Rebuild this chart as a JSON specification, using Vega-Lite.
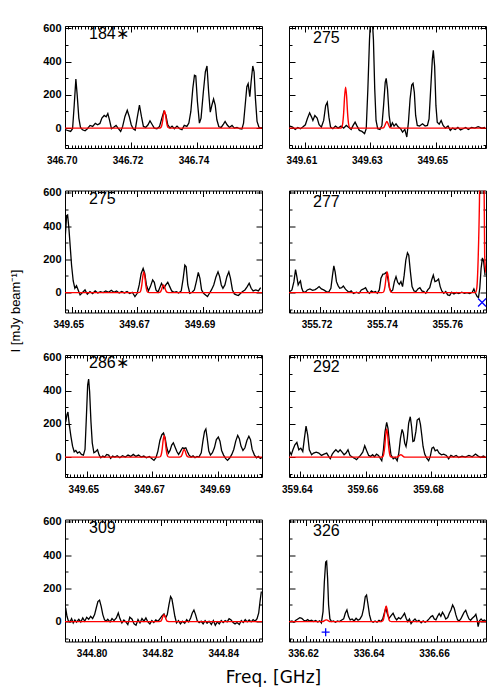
{
"$schema":"https://vega.github.io/schema/vega-lite/v6.json",
"background":"white",
"padding":{"left":8,"top":21,"right":5,"bottom":5},
"bounds":"flush",
"columns":2,
"spacing":{"row":42.5,"column":27},
"config":{
 "view":{"stroke":"black","strokeWidth":1},
 "axis":{"domain":false,"grid":false,"tickColor":"black","tickWidth":1,"labelFont":"Liberation Sans","labelFontWeight":"bold","labelFontSize":10,"labelColor":"black","labelFlush":false,"labelOverlap":false,"titleFont":"DejaVu Sans","titleFontWeight":"normal","titleFontSize":17,"titleColor":"black"},
 "axisLeft":{"labelFontSize":11},
 "title":{"anchor":"start","frame":"group","offset":-20,"dx":24,"fontSize":16,"fontWeight":"normal","font":"Liberation Sans","color":"black"}
},
"datasets":{
"o1":[{"f":346.7002,"v":-10},{"f":346.701,"v":-16},{"f":346.7017,"v":-20},{"f":346.7023,"v":-4},{"f":346.7028,"v":139},{"f":346.7033,"v":295},{"f":346.7037,"v":199},{"f":346.7042,"v":60},{"f":346.7047,"v":4},{"f":346.7053,"v":-10},{"f":346.7061,"v":-16},{"f":346.7068,"v":-4},{"f":346.7076,"v":16},{"f":346.7084,"v":10},{"f":346.7092,"v":28},{"f":346.7099,"v":20},{"f":346.7106,"v":28},{"f":346.7112,"v":60},{"f":346.7119,"v":76},{"f":346.7125,"v":68},{"f":346.713,"v":88},{"f":346.7135,"v":50},{"f":346.7141,"v":-4},{"f":346.7147,"v":4},{"f":346.7155,"v":16},{"f":346.7161,"v":0},{"f":346.7169,"v":-20},{"f":346.7175,"v":10},{"f":346.7182,"v":70},{"f":346.7189,"v":107},{"f":346.7195,"v":70},{"f":346.7201,"v":20},{"f":346.7207,"v":-4},{"f":346.7213,"v":-12},{"f":346.7219,"v":60},{"f":346.7226,"v":139},{"f":346.7232,"v":70},{"f":346.7238,"v":10},{"f":346.7245,"v":4},{"f":346.7252,"v":20},{"f":346.7258,"v":44},{"f":346.7265,"v":20},{"f":346.7271,"v":0},{"f":346.7279,"v":-4},{"f":346.7287,"v":10},{"f":346.7294,"v":60},{"f":346.73,"v":100},{"f":346.7306,"v":80},{"f":346.7312,"v":20},{"f":346.7319,"v":0},{"f":346.7325,"v":12},{"f":346.7332,"v":-4},{"f":346.734,"v":12},{"f":346.7348,"v":-4},{"f":346.7355,"v":-10},{"f":346.7362,"v":16},{"f":346.737,"v":10},{"f":346.7376,"v":30},{"f":346.7382,"v":100},{"f":346.7388,"v":239},{"f":346.7393,"v":318},{"f":346.7397,"v":314},{"f":346.7402,"v":159},{"f":346.7408,"v":30},{"f":346.7413,"v":60},{"f":346.742,"v":219},{"f":346.7426,"v":338},{"f":346.7431,"v":374},{"f":346.7436,"v":219},{"f":346.7441,"v":96},{"f":346.7446,"v":139},{"f":346.7451,"v":175},{"f":346.7456,"v":139},{"f":346.7461,"v":50},{"f":346.7467,"v":8},{"f":346.7474,"v":4},{"f":346.7481,"v":24},{"f":346.7486,"v":40},{"f":346.7492,"v":20},{"f":346.7499,"v":4},{"f":346.7507,"v":16},{"f":346.7514,"v":0},{"f":346.7522,"v":4},{"f":346.753,"v":-4},{"f":346.7537,"v":-6},{"f":346.7542,"v":30},{"f":346.7547,"v":139},{"f":346.7552,"v":249},{"f":346.7556,"v":267},{"f":346.7561,"v":189},{"f":346.7565,"v":279},{"f":346.757,"v":374},{"f":346.7574,"v":338},{"f":346.7578,"v":179},{"f":346.7583,"v":40},{"f":346.7589,"v":4},{"f":346.7595,"v":0},{"f":346.7598,"v":4}],
"m1":[{"f":346.7,"v":0},{"f":346.7286,"v":0},{"f":346.729,"v":2},{"f":346.7293,"v":11},{"f":346.7296,"v":39},{"f":346.7299,"v":82},{"f":346.7302,"v":105},{"f":346.7305,"v":82},{"f":346.7308,"v":39},{"f":346.7311,"v":11},{"f":346.7314,"v":2},{"f":346.7318,"v":0},{"f":346.7598,"v":0}],
"o2":[{"f":349.6055,"v":12},{"f":349.6063,"v":6},{"f":349.6071,"v":-8},{"f":349.6079,"v":4},{"f":349.6087,"v":-4},{"f":349.6095,"v":8},{"f":349.6102,"v":20},{"f":349.6108,"v":56},{"f":349.6115,"v":92},{"f":349.6121,"v":66},{"f":349.6125,"v":46},{"f":349.6131,"v":76},{"f":349.6138,"v":60},{"f":349.6144,"v":20},{"f":349.6151,"v":6},{"f":349.6158,"v":46},{"f":349.6164,"v":135},{"f":349.6169,"v":155},{"f":349.6174,"v":66},{"f":349.6179,"v":6},{"f":349.6186,"v":-4},{"f":349.6194,"v":12},{"f":349.6202,"v":0},{"f":349.6211,"v":12},{"f":349.6219,"v":0},{"f":349.6227,"v":16},{"f":349.6235,"v":4},{"f":349.6242,"v":-8},{"f":349.6248,"v":16},{"f":349.6254,"v":36},{"f":349.626,"v":12},{"f":349.6267,"v":-14},{"f":349.6275,"v":-20},{"f":349.6283,"v":-34},{"f":349.6288,"v":-4},{"f":349.6293,"v":235},{"f":349.6298,"v":533},{"f":349.6301,"v":650},{"f":349.6306,"v":670},{"f":349.631,"v":533},{"f":349.6314,"v":235},{"f":349.6318,"v":46},{"f":349.6323,"v":-4},{"f":349.633,"v":-8},{"f":349.6336,"v":16},{"f":349.6341,"v":135},{"f":349.6346,"v":275},{"f":349.6349,"v":299},{"f":349.6353,"v":235},{"f":349.6358,"v":76},{"f":349.6363,"v":6},{"f":349.6368,"v":32},{"f":349.6373,"v":12},{"f":349.6379,"v":26},{"f":349.6386,"v":6},{"f":349.6393,"v":-4},{"f":349.6399,"v":-24},{"f":349.6406,"v":-8},{"f":349.6412,"v":-54},{"f":349.6417,"v":36},{"f":349.6422,"v":175},{"f":349.6427,"v":259},{"f":349.6431,"v":269},{"f":349.6435,"v":215},{"f":349.6439,"v":76},{"f":349.6444,"v":16},{"f":349.6451,"v":12},{"f":349.646,"v":26},{"f":349.6468,"v":12},{"f":349.6475,"v":16},{"f":349.648,"v":56},{"f":349.6485,"v":235},{"f":349.649,"v":414},{"f":349.6493,"v":468},{"f":349.6497,"v":374},{"f":349.6501,"v":135},{"f":349.6505,"v":36},{"f":349.6511,"v":24},{"f":349.6517,"v":46},{"f":349.6523,"v":16},{"f":349.653,"v":0},{"f":349.6538,"v":12},{"f":349.6545,"v":-14},{"f":349.6552,"v":0},{"f":349.656,"v":-8},{"f":349.6568,"v":4},{"f":349.6576,"v":-12},{"f":349.6584,"v":-4},{"f":349.6592,"v":4},{"f":349.66,"v":-8},{"f":349.661,"v":4},{"f":349.662,"v":0},{"f":349.663,"v":8},{"f":349.6641,"v":0},{"f":349.6651,"v":4}],
"m2":[{"f":349.6052,"v":0},{"f":349.6209,"v":0},{"f":349.6213,"v":4},{"f":349.6216,"v":26},{"f":349.6219,"v":91},{"f":349.6222,"v":193},{"f":349.6225,"v":247},{"f":349.6228,"v":193},{"f":349.6231,"v":91},{"f":349.6234,"v":26},{"f":349.6237,"v":4},{"f":349.6241,"v":0},{"f":349.6335,"v":0},{"f":349.6339,"v":1},{"f":349.6342,"v":4},{"f":349.6345,"v":15},{"f":349.6348,"v":31},{"f":349.6351,"v":40},{"f":349.6354,"v":31},{"f":349.6357,"v":15},{"f":349.636,"v":4},{"f":349.6363,"v":1},{"f":349.6367,"v":0},{"f":349.6654,"v":0}],
"o3":[{"f":349.6481,"v":344},{"f":349.6485,"v":464},{"f":349.6488,"v":468},{"f":349.6492,"v":384},{"f":349.6496,"v":275},{"f":349.65,"v":165},{"f":349.6505,"v":70},{"f":349.651,"v":26},{"f":349.6515,"v":42},{"f":349.652,"v":16},{"f":349.6526,"v":-14},{"f":349.6534,"v":2},{"f":349.6541,"v":16},{"f":349.6548,"v":-10},{"f":349.6556,"v":6},{"f":349.6564,"v":-6},{"f":349.6572,"v":10},{"f":349.658,"v":-2},{"f":349.6588,"v":6},{"f":349.6596,"v":0},{"f":349.6604,"v":10},{"f":349.6613,"v":2},{"f":349.6621,"v":14},{"f":349.6629,"v":2},{"f":349.6637,"v":10},{"f":349.6645,"v":-2},{"f":349.6653,"v":6},{"f":349.6661,"v":-2},{"f":349.6669,"v":6},{"f":349.6677,"v":-6},{"f":349.6685,"v":2},{"f":349.6693,"v":-24},{"f":349.67,"v":-4},{"f":349.6706,"v":46},{"f":349.6712,"v":115},{"f":349.6718,"v":145},{"f":349.6723,"v":115},{"f":349.6728,"v":46},{"f":349.6734,"v":10},{"f":349.674,"v":36},{"f":349.6747,"v":76},{"f":349.6752,"v":62},{"f":349.6757,"v":16},{"f":349.6763,"v":2},{"f":349.6768,"v":26},{"f":349.6774,"v":56},{"f":349.6781,"v":26},{"f":349.6787,"v":46},{"f":349.6793,"v":62},{"f":349.6799,"v":36},{"f":349.6805,"v":10},{"f":349.6812,"v":2},{"f":349.6819,"v":6},{"f":349.6826,"v":-2},{"f":349.6834,"v":10},{"f":349.684,"v":86},{"f":349.6845,"v":165},{"f":349.6849,"v":155},{"f":349.6854,"v":46},{"f":349.686,"v":-4},{"f":349.6867,"v":2},{"f":349.6874,"v":16},{"f":349.688,"v":66},{"f":349.6886,"v":121},{"f":349.6891,"v":86},{"f":349.6896,"v":16},{"f":349.6902,"v":-4},{"f":349.6908,"v":-14},{"f":349.6914,"v":-24},{"f":349.692,"v":-4},{"f":349.6926,"v":16},{"f":349.6933,"v":46},{"f":349.694,"v":96},{"f":349.6946,"v":125},{"f":349.6951,"v":96},{"f":349.6956,"v":46},{"f":349.6961,"v":26},{"f":349.6967,"v":46},{"f":349.6973,"v":96},{"f":349.6979,"v":125},{"f":349.6984,"v":86},{"f":349.699,"v":16},{"f":349.6996,"v":-8},{"f":349.7002,"v":-14},{"f":349.7008,"v":-18},{"f":349.7015,"v":-4},{"f":349.7021,"v":6},{"f":349.7028,"v":16},{"f":349.7035,"v":36},{"f":349.7041,"v":56},{"f":349.7047,"v":26},{"f":349.7053,"v":10},{"f":349.7061,"v":16},{"f":349.7069,"v":10},{"f":349.7076,"v":30}],
"m3":[{"f":349.648,"v":0},{"f":349.6704,"v":0},{"f":349.6708,"v":2},{"f":349.6711,"v":13},{"f":349.6714,"v":46},{"f":349.6717,"v":98},{"f":349.672,"v":125},{"f":349.6723,"v":98},{"f":349.6726,"v":46},{"f":349.6729,"v":13},{"f":349.6732,"v":2},{"f":349.6736,"v":0},{"f":349.6764,"v":0},{"f":349.6768,"v":1},{"f":349.6771,"v":5},{"f":349.6774,"v":17},{"f":349.6777,"v":36},{"f":349.678,"v":46},{"f":349.6783,"v":36},{"f":349.6786,"v":17},{"f":349.6789,"v":5},{"f":349.6792,"v":1},{"f":349.6796,"v":0},{"f":349.708,"v":0}],
"o4":[{"f":355.7109,"v":6},{"f":355.7115,"v":16},{"f":355.7121,"v":66},{"f":355.7126,"v":139},{"f":355.713,"v":96},{"f":355.7134,"v":46},{"f":355.7138,"v":62},{"f":355.7141,"v":70},{"f":355.7145,"v":26},{"f":355.7149,"v":6},{"f":355.7156,"v":2},{"f":355.7162,"v":16},{"f":355.717,"v":22},{"f":355.7178,"v":14},{"f":355.7186,"v":18},{"f":355.7192,"v":26},{"f":355.7198,"v":36},{"f":355.7205,"v":22},{"f":355.7212,"v":16},{"f":355.722,"v":6},{"f":355.7227,"v":2},{"f":355.7234,"v":26},{"f":355.7239,"v":105},{"f":355.7243,"v":161},{"f":355.7247,"v":125},{"f":355.7251,"v":66},{"f":355.7256,"v":42},{"f":355.7261,"v":26},{"f":355.7267,"v":30},{"f":355.7272,"v":40},{"f":355.7278,"v":22},{"f":355.7283,"v":12},{"f":355.7289,"v":2},{"f":355.7296,"v":10},{"f":355.7303,"v":-6},{"f":355.7312,"v":2},{"f":355.732,"v":-4},{"f":355.7327,"v":16},{"f":355.7334,"v":22},{"f":355.734,"v":30},{"f":355.7346,"v":6},{"f":355.7352,"v":-4},{"f":355.7358,"v":10},{"f":355.7364,"v":2},{"f":355.737,"v":6},{"f":355.7376,"v":-4},{"f":355.7382,"v":16},{"f":355.7387,"v":86},{"f":355.7393,"v":111},{"f":355.7398,"v":113},{"f":355.7403,"v":121},{"f":355.7408,"v":86},{"f":355.7413,"v":26},{"f":355.7418,"v":6},{"f":355.7423,"v":16},{"f":355.7428,"v":66},{"f":355.7433,"v":96},{"f":355.7438,"v":62},{"f":355.7443,"v":50},{"f":355.7448,"v":66},{"f":355.7453,"v":36},{"f":355.7458,"v":105},{"f":355.7463,"v":195},{"f":355.7468,"v":239},{"f":355.7472,"v":225},{"f":355.7477,"v":125},{"f":355.7482,"v":36},{"f":355.7488,"v":10},{"f":355.7494,"v":6},{"f":355.75,"v":22},{"f":355.7506,"v":30},{"f":355.7512,"v":10},{"f":355.7518,"v":6},{"f":355.7524,"v":-4},{"f":355.753,"v":16},{"f":355.7536,"v":30},{"f":355.7542,"v":76},{"f":355.7547,"v":105},{"f":355.7552,"v":66},{"f":355.7557,"v":70},{"f":355.7563,"v":82},{"f":355.7568,"v":36},{"f":355.7573,"v":10},{"f":355.7579,"v":-4},{"f":355.7585,"v":6},{"f":355.7591,"v":-14},{"f":355.7597,"v":-18},{"f":355.7603,"v":2},{"f":355.761,"v":-8},{"f":355.7617,"v":0},{"f":355.7625,"v":-6},{"f":355.7634,"v":2},{"f":355.7642,"v":-4},{"f":355.765,"v":0},{"f":355.7658,"v":-6},{"f":355.7666,"v":2},{"f":355.7671,"v":22},{"f":355.7676,"v":-4},{"f":355.7681,"v":-24},{"f":355.7685,"v":-30},{"f":355.7689,"v":26},{"f":355.7693,"v":145},{"f":355.7697,"v":209},{"f":355.7701,"v":185},{"f":355.7705,"v":105}],
"m4":[{"f":355.7106,"v":0},{"f":355.739,"v":0},{"f":355.7394,"v":2},{"f":355.7397,"v":13},{"f":355.74,"v":46},{"f":355.7403,"v":98},{"f":355.7406,"v":125},{"f":355.7409,"v":98},{"f":355.7412,"v":46},{"f":355.7415,"v":13},{"f":355.7418,"v":2},{"f":355.7422,"v":0},{"f":355.7676,"v":0},{"f":355.768,"v":30},{"f":355.7684,"v":200},{"f":355.7688,"v":550},{"f":355.7692,"v":1200},{"f":355.7697,"v":1600},{"f":355.7701,"v":1000},{"f":355.7704,"v":215},{"f":355.7708,"v":120}],
"k4":[{"f":355.7696,"v":-60}],
"o5":[{"f":349.6436,"v":211},{"f":349.644,"v":255},{"f":349.6443,"v":271},{"f":349.6447,"v":195},{"f":349.6452,"v":125},{"f":349.6457,"v":66},{"f":349.6462,"v":32},{"f":349.6467,"v":40},{"f":349.6472,"v":24},{"f":349.6478,"v":32},{"f":349.6484,"v":16},{"f":349.649,"v":12},{"f":349.6495,"v":46},{"f":349.6499,"v":235},{"f":349.6503,"v":434},{"f":349.6506,"v":470},{"f":349.6509,"v":394},{"f":349.6513,"v":215},{"f":349.6517,"v":86},{"f":349.6522,"v":26},{"f":349.6527,"v":32},{"f":349.6533,"v":44},{"f":349.6538,"v":12},{"f":349.6543,"v":-4},{"f":349.6549,"v":6},{"f":349.6555,"v":0},{"f":349.6561,"v":16},{"f":349.6567,"v":12},{"f":349.6573,"v":-8},{"f":349.6579,"v":6},{"f":349.6586,"v":0},{"f":349.6593,"v":8},{"f":349.6601,"v":-4},{"f":349.6609,"v":8},{"f":349.6618,"v":0},{"f":349.6626,"v":12},{"f":349.6634,"v":4},{"f":349.6642,"v":16},{"f":349.665,"v":4},{"f":349.6658,"v":12},{"f":349.6666,"v":0},{"f":349.6674,"v":6},{"f":349.6682,"v":-4},{"f":349.6691,"v":4},{"f":349.6698,"v":-8},{"f":349.6705,"v":-20},{"f":349.6711,"v":-4},{"f":349.6717,"v":36},{"f":349.6723,"v":100},{"f":349.6729,"v":135},{"f":349.6734,"v":145},{"f":349.6739,"v":115},{"f":349.6744,"v":56},{"f":349.6749,"v":24},{"f":349.6754,"v":40},{"f":349.6759,"v":72},{"f":349.6764,"v":86},{"f":349.677,"v":56},{"f":349.6775,"v":32},{"f":349.678,"v":16},{"f":349.6786,"v":36},{"f":349.6792,"v":56},{"f":349.6797,"v":52},{"f":349.6802,"v":56},{"f":349.6807,"v":32},{"f":349.6812,"v":12},{"f":349.6818,"v":0},{"f":349.6824,"v":8},{"f":349.683,"v":-4},{"f":349.6836,"v":4},{"f":349.6842,"v":0},{"f":349.6849,"v":26},{"f":349.6854,"v":96},{"f":349.6859,"v":155},{"f":349.6863,"v":169},{"f":349.6867,"v":115},{"f":349.6872,"v":36},{"f":349.6877,"v":12},{"f":349.6883,"v":26},{"f":349.6889,"v":56},{"f":349.6895,"v":105},{"f":349.6901,"v":121},{"f":349.6906,"v":96},{"f":349.6911,"v":40},{"f":349.6917,"v":12},{"f":349.6923,"v":-8},{"f":349.6929,"v":-20},{"f":349.6936,"v":-4},{"f":349.6942,"v":16},{"f":349.6948,"v":46},{"f":349.6954,"v":96},{"f":349.696,"v":131},{"f":349.6965,"v":111},{"f":349.697,"v":66},{"f":349.6976,"v":40},{"f":349.6982,"v":56},{"f":349.6988,"v":100},{"f":349.6994,"v":125},{"f":349.6999,"v":105},{"f":349.7004,"v":46},{"f":349.7011,"v":12},{"f":349.7017,"v":-4},{"f":349.7023,"v":4},{"f":349.7029,"v":-8},{"f":349.7033,"v":-4}],
"m5":[{"f":349.6434,"v":0},{"f":349.672,"v":0},{"f":349.6724,"v":2},{"f":349.6727,"v":14},{"f":349.673,"v":48},{"f":349.6733,"v":102},{"f":349.6736,"v":131},{"f":349.6739,"v":102},{"f":349.6742,"v":48},{"f":349.6745,"v":14},{"f":349.6748,"v":2},{"f":349.6752,"v":0},{"f":349.6781,"v":0},{"f":349.6785,"v":1},{"f":349.6788,"v":5},{"f":349.6791,"v":17},{"f":349.6794,"v":36},{"f":349.6797,"v":46},{"f":349.68,"v":36},{"f":349.6803,"v":17},{"f":349.6806,"v":5},{"f":349.6809,"v":1},{"f":349.6813,"v":0},{"f":349.7034,"v":0}],
"o6":[{"f":359.6368,"v":34},{"f":359.6373,"v":14},{"f":359.6378,"v":44},{"f":359.6384,"v":74},{"f":359.639,"v":88},{"f":359.6396,"v":44},{"f":359.6402,"v":54},{"f":359.6408,"v":34},{"f":359.6413,"v":113},{"f":359.6418,"v":187},{"f":359.6423,"v":133},{"f":359.6428,"v":44},{"f":359.6435,"v":14},{"f":359.6441,"v":24},{"f":359.6449,"v":30},{"f":359.6457,"v":24},{"f":359.6465,"v":10},{"f":359.6473,"v":18},{"f":359.6481,"v":24},{"f":359.6487,"v":4},{"f":359.6492,"v":-10},{"f":359.6498,"v":18},{"f":359.6504,"v":34},{"f":359.6509,"v":44},{"f":359.6516,"v":30},{"f":359.6522,"v":44},{"f":359.6528,"v":30},{"f":359.6534,"v":14},{"f":359.654,"v":24},{"f":359.6546,"v":44},{"f":359.6552,"v":10},{"f":359.6558,"v":2},{"f":359.6565,"v":-6},{"f":359.6572,"v":-16},{"f":359.6578,"v":-2},{"f":359.6584,"v":10},{"f":359.6591,"v":30},{"f":359.6597,"v":68},{"f":359.6603,"v":38},{"f":359.6609,"v":10},{"f":359.6615,"v":4},{"f":359.6621,"v":14},{"f":359.6627,"v":2},{"f":359.6633,"v":18},{"f":359.6639,"v":10},{"f":359.6645,"v":-10},{"f":359.6649,"v":-22},{"f":359.6654,"v":44},{"f":359.6659,"v":153},{"f":359.6664,"v":209},{"f":359.6668,"v":173},{"f":359.6672,"v":94},{"f":359.6677,"v":14},{"f":359.6684,"v":-10},{"f":359.669,"v":-2},{"f":359.6696,"v":-22},{"f":359.6701,"v":24},{"f":359.6706,"v":113},{"f":359.6711,"v":167},{"f":359.6715,"v":143},{"f":359.6719,"v":84},{"f":359.6723,"v":64},{"f":359.6727,"v":113},{"f":359.6731,"v":203},{"f":359.6736,"v":243},{"f":359.674,"v":183},{"f":359.6744,"v":94},{"f":359.6748,"v":98},{"f":359.6753,"v":153},{"f":359.6757,"v":223},{"f":359.6763,"v":233},{"f":359.6767,"v":197},{"f":359.6771,"v":133},{"f":359.6775,"v":64},{"f":359.678,"v":18},{"f":359.6786,"v":-6},{"f":359.6792,"v":-22},{"f":359.6797,"v":4},{"f":359.6802,"v":54},{"f":359.6807,"v":60},{"f":359.6812,"v":38},{"f":359.6818,"v":44},{"f":359.6824,"v":24},{"f":359.6831,"v":14},{"f":359.6838,"v":18},{"f":359.6846,"v":10},{"f":359.6853,"v":-10},{"f":359.686,"v":10},{"f":359.6868,"v":2},{"f":359.6876,"v":10},{"f":359.6884,"v":-2},{"f":359.6894,"v":6},{"f":359.6904,"v":0},{"f":359.6915,"v":10},{"f":359.6925,"v":2},{"f":359.6935,"v":18},{"f":359.6943,"v":6},{"f":359.6951,"v":-2},{"f":359.6959,"v":6},{"f":359.6965,"v":0}],
"m6":[{"f":359.6366,"v":0},{"f":359.6648,"v":0},{"f":359.6652,"v":3},{"f":359.6655,"v":18},{"f":359.6658,"v":63},{"f":359.6661,"v":132},{"f":359.6664,"v":169},{"f":359.6667,"v":132},{"f":359.667,"v":63},{"f":359.6673,"v":18},{"f":359.6676,"v":3},{"f":359.668,"v":0},{"f":359.6695,"v":0},{"f":359.67,"v":5},{"f":359.6704,"v":12},{"f":359.6707,"v":14},{"f":359.671,"v":12},{"f":359.6714,"v":5},{"f":359.6719,"v":0},{"f":359.6967,"v":0}],
"o7":[{"f":344.7911,"v":82},{"f":344.7915,"v":32},{"f":344.7919,"v":6},{"f":344.7924,"v":-2},{"f":344.7929,"v":18},{"f":344.7934,"v":-8},{"f":344.7939,"v":10},{"f":344.7944,"v":-4},{"f":344.7951,"v":14},{"f":344.7957,"v":-2},{"f":344.7963,"v":22},{"f":344.7969,"v":2},{"f":344.7975,"v":26},{"f":344.7981,"v":14},{"f":344.7987,"v":32},{"f":344.7993,"v":18},{"f":344.7999,"v":42},{"f":344.8004,"v":82},{"f":344.8009,"v":121},{"f":344.8014,"v":129},{"f":344.8019,"v":92},{"f":344.8024,"v":42},{"f":344.8029,"v":12},{"f":344.8034,"v":2},{"f":344.8039,"v":14},{"f":344.8046,"v":-2},{"f":344.8052,"v":18},{"f":344.8058,"v":6},{"f":344.8065,"v":22},{"f":344.8071,"v":52},{"f":344.8076,"v":18},{"f":344.8082,"v":-8},{"f":344.8088,"v":10},{"f":344.8094,"v":-2},{"f":344.81,"v":-18},{"f":344.8106,"v":26},{"f":344.8113,"v":14},{"f":344.8119,"v":-14},{"f":344.8125,"v":-22},{"f":344.8131,"v":12},{"f":344.8137,"v":-8},{"f":344.8143,"v":18},{"f":344.8149,"v":2},{"f":344.8155,"v":22},{"f":344.8161,"v":-2},{"f":344.8167,"v":-14},{"f":344.8173,"v":6},{"f":344.8179,"v":-6},{"f":344.8185,"v":10},{"f":344.8192,"v":2},{"f":344.8198,"v":18},{"f":344.8204,"v":34},{"f":344.821,"v":46},{"f":344.8215,"v":22},{"f":344.822,"v":42},{"f":344.8225,"v":101},{"f":344.823,"v":151},{"f":344.8234,"v":137},{"f":344.8238,"v":92},{"f":344.8243,"v":32},{"f":344.8248,"v":-8},{"f":344.8254,"v":6},{"f":344.826,"v":-14},{"f":344.8266,"v":2},{"f":344.8273,"v":-10},{"f":344.8279,"v":12},{"f":344.8285,"v":-2},{"f":344.8291,"v":22},{"f":344.8296,"v":52},{"f":344.8301,"v":70},{"f":344.8306,"v":42},{"f":344.8311,"v":6},{"f":344.8317,"v":-6},{"f":344.8323,"v":2},{"f":344.8329,"v":-14},{"f":344.8335,"v":6},{"f":344.8341,"v":-10},{"f":344.8347,"v":2},{"f":344.8354,"v":-18},{"f":344.836,"v":6},{"f":344.8366,"v":-22},{"f":344.8372,"v":-2},{"f":344.8378,"v":-14},{"f":344.8384,"v":6},{"f":344.839,"v":-6},{"f":344.8396,"v":6},{"f":344.8402,"v":-2},{"f":344.8408,"v":18},{"f":344.8414,"v":10},{"f":344.842,"v":-6},{"f":344.8426,"v":-14},{"f":344.8432,"v":-6},{"f":344.8439,"v":-18},{"f":344.8445,"v":6},{"f":344.8451,"v":-6},{"f":344.8457,"v":12},{"f":344.8463,"v":-2},{"f":344.8469,"v":10},{"f":344.8475,"v":-2},{"f":344.8481,"v":12},{"f":344.8487,"v":2},{"f":344.8493,"v":18},{"f":344.8498,"v":52},{"f":344.8502,"v":121},{"f":344.8506,"v":181}],
"m7":[{"f":344.7909,"v":0},{"f":344.8194,"v":0},{"f":344.8198,"v":1},{"f":344.8201,"v":4},{"f":344.8204,"v":16},{"f":344.8207,"v":33},{"f":344.821,"v":42},{"f":344.8213,"v":33},{"f":344.8216,"v":16},{"f":344.8219,"v":4},{"f":344.8222,"v":1},{"f":344.8226,"v":0},{"f":344.8508,"v":0}],
"o8":[{"f":336.6149,"v":0},{"f":336.6156,"v":4},{"f":336.6162,"v":-4},{"f":336.6168,"v":8},{"f":336.6174,"v":16},{"f":336.618,"v":24},{"f":336.6186,"v":20},{"f":336.6192,"v":8},{"f":336.6198,"v":4},{"f":336.6204,"v":12},{"f":336.621,"v":4},{"f":336.6216,"v":8},{"f":336.6222,"v":0},{"f":336.6228,"v":6},{"f":336.6235,"v":-2},{"f":336.6241,"v":4},{"f":336.6246,"v":-8},{"f":336.6251,"v":60},{"f":336.6255,"v":239},{"f":336.6259,"v":358},{"f":336.6262,"v":364},{"f":336.6265,"v":259},{"f":336.6268,"v":100},{"f":336.6272,"v":16},{"f":336.6277,"v":0},{"f":336.6283,"v":4},{"f":336.6289,"v":-4},{"f":336.6295,"v":4},{"f":336.6301,"v":0},{"f":336.6307,"v":8},{"f":336.6314,"v":16},{"f":336.6319,"v":50},{"f":336.6324,"v":70},{"f":336.6329,"v":30},{"f":336.6334,"v":10},{"f":336.634,"v":16},{"f":336.6346,"v":4},{"f":336.6352,"v":20},{"f":336.6358,"v":8},{"f":336.6364,"v":16},{"f":336.637,"v":36},{"f":336.6375,"v":80},{"f":336.638,"v":149},{"f":336.6384,"v":159},{"f":336.6388,"v":109},{"f":336.6393,"v":40},{"f":336.6398,"v":4},{"f":336.6404,"v":-4},{"f":336.641,"v":4},{"f":336.6416,"v":-4},{"f":336.6422,"v":8},{"f":336.6428,"v":0},{"f":336.6434,"v":20},{"f":336.6439,"v":56},{"f":336.6443,"v":80},{"f":336.6448,"v":44},{"f":336.6453,"v":20},{"f":336.6459,"v":36},{"f":336.6465,"v":50},{"f":336.6471,"v":24},{"f":336.6476,"v":10},{"f":336.6482,"v":24},{"f":336.6488,"v":16},{"f":336.6494,"v":32},{"f":336.65,"v":50},{"f":336.6505,"v":20},{"f":336.651,"v":0},{"f":336.6515,"v":16},{"f":336.652,"v":-12},{"f":336.6526,"v":4},{"f":336.6532,"v":16},{"f":336.6538,"v":0},{"f":336.6544,"v":8},{"f":336.6551,"v":-8},{"f":336.6557,"v":4},{"f":336.6563,"v":-4},{"f":336.6569,"v":4},{"f":336.6575,"v":16},{"f":336.6581,"v":30},{"f":336.6586,"v":36},{"f":336.6591,"v":16},{"f":336.6596,"v":10},{"f":336.6601,"v":32},{"f":336.6606,"v":48},{"f":336.6611,"v":32},{"f":336.6616,"v":56},{"f":336.6621,"v":40},{"f":336.6626,"v":16},{"f":336.6632,"v":24},{"f":336.6637,"v":50},{"f":336.6642,"v":70},{"f":336.6647,"v":100},{"f":336.6652,"v":80},{"f":336.6657,"v":40},{"f":336.6662,"v":10},{"f":336.6667,"v":4},{"f":336.6672,"v":16},{"f":336.6677,"v":36},{"f":336.6682,"v":56},{"f":336.6687,"v":68},{"f":336.6692,"v":40},{"f":336.6697,"v":16},{"f":336.6702,"v":8},{"f":336.6707,"v":20},{"f":336.6713,"v":30},{"f":336.6718,"v":44},{"f":336.6722,"v":10},{"f":336.6725,"v":-30},{"f":336.6729,"v":4},{"f":336.6734,"v":16},{"f":336.6739,"v":4},{"f":336.6744,"v":10},{"f":336.6748,"v":4}],
"m8":[{"f":336.6147,"v":0},{"f":336.625,"v":0},{"f":336.6254,"v":4},{"f":336.6258,"v":9},{"f":336.6261,"v":10},{"f":336.6264,"v":9},{"f":336.6268,"v":4},{"f":336.6272,"v":0},{"f":336.6428,"v":0},{"f":336.6432,"v":2},{"f":336.6435,"v":10},{"f":336.6438,"v":35},{"f":336.6441,"v":73},{"f":336.6444,"v":94},{"f":336.6447,"v":73},{"f":336.645,"v":35},{"f":336.6453,"v":10},{"f":336.6456,"v":2},{"f":336.646,"v":0},{"f":336.6749,"v":0}],
"k8":[{"f":336.6259,"v":-64}]
},
"concat":[
{"width":197,"height":122,"title":"184∗","layer":[
 {"data":{"name":"o1"},"mark":{"type":"line","color":"black","strokeWidth":1.3,"clip":true},"encoding":{
  "x":{"field":"f","type":"quantitative","scale":{"domain":[346.7,346.7598],"nice":false,"zero":false},"axis":{"orient":"bottom","tickCount":60,"labelExpr":"abs(datum.value*50-round(datum.value*50))<0.01 ? format(datum.value,'.2f') : ''","tickSize":{"condition":{"test":"abs(datum.value*50-round(datum.value*50))<0.01","value":-6},"value":-3},"labelPadding":13,"labelOffset":-3.3,"title":null}},
  "y":{"field":"v","type":"quantitative","scale":{"domain":[-120,615],"nice":false,"zero":false},"axis":{"orient":"left","values":[-100,0,100,200,300,400,500,600],"labelExpr":"datum.value>=0 && datum.value%200==0 ? datum.label : ''","tickSize":{"condition":{"test":"datum.value%200==0","value":-6},"value":-3},"labelPadding":10,"title":null}}}},
 {"data":{"name":"m1"},"mark":{"type":"line","color":"#ff0000","strokeWidth":1.4,"clip":true,"interpolate":"monotone"},"encoding":{
  "x":{"field":"f","type":"quantitative","scale":{"domain":[346.7,346.7598],"nice":false,"zero":false},"axis":{"orient":"top","tickCount":60,"labels":false,"tickSize":{"condition":{"test":"abs(datum.value*50-round(datum.value*50))<0.01","value":-6},"value":-3},"title":null}},
  "y":{"field":"v","type":"quantitative","scale":{"domain":[-120,615],"nice":false,"zero":false},"axis":{"orient":"right","values":[-100,0,100,200,300,400,500,600],"labels":false,"tickSize":{"condition":{"test":"datum.value%200==0","value":-6},"value":-3},"title":null}}}}
 ],"resolve":{"axis":{"x":"independent","y":"independent"}}},
{"width":197,"height":122,"title":"275","layer":[
 {"data":{"name":"o2"},"mark":{"type":"line","color":"black","strokeWidth":1.3,"clip":true},"encoding":{
  "x":{"field":"f","type":"quantitative","scale":{"domain":[349.6052,349.6654],"nice":false,"zero":false},"axis":{"orient":"bottom","tickCount":60,"labelExpr":"abs((datum.value-0.01)*50-round((datum.value-0.01)*50))<0.01 ? format(datum.value,'.2f') : ''","tickSize":{"condition":{"test":"abs((datum.value-0.01)*50-round((datum.value-0.01)*50))<0.01","value":-6},"value":-3},"labelPadding":13,"labelOffset":-3.3,"title":null}},
  "y":{"field":"v","type":"quantitative","scale":{"domain":[-120,615],"nice":false,"zero":false},"axis":{"orient":"left","values":[-100,0,100,200,300,400,500,600],"labels":false,"tickSize":{"condition":{"test":"datum.value%200==0","value":-6},"value":-3},"title":null}}}},
 {"data":{"name":"m2"},"mark":{"type":"line","color":"#ff0000","strokeWidth":1.4,"clip":true,"interpolate":"monotone"},"encoding":{
  "x":{"field":"f","type":"quantitative","scale":{"domain":[349.6052,349.6654],"nice":false,"zero":false},"axis":{"orient":"top","tickCount":60,"labels":false,"tickSize":{"condition":{"test":"abs((datum.value-0.01)*50-round((datum.value-0.01)*50))<0.01","value":-6},"value":-3},"title":null}},
  "y":{"field":"v","type":"quantitative","scale":{"domain":[-120,615],"nice":false,"zero":false},"axis":{"orient":"right","values":[-100,0,100,200,300,400,500,600],"labels":false,"tickSize":{"condition":{"test":"datum.value%200==0","value":-6},"value":-3},"title":null}}}}
 ],"resolve":{"axis":{"x":"independent","y":"independent"}}},
{"width":197,"height":122,"title":"275","layer":[
 {"data":{"name":"o3"},"mark":{"type":"line","color":"black","strokeWidth":1.3,"clip":true},"encoding":{
  "x":{"field":"f","type":"quantitative","scale":{"domain":[349.648,349.708],"nice":false,"zero":false},"axis":{"orient":"bottom","tickCount":60,"labelExpr":"abs((datum.value-0.01)*50-round((datum.value-0.01)*50))<0.01 ? format(datum.value,'.2f') : ''","tickSize":{"condition":{"test":"abs((datum.value-0.01)*50-round((datum.value-0.01)*50))<0.01","value":-6},"value":-3},"labelPadding":13,"labelOffset":-3.3,"title":null}},
  "y":{"field":"v","type":"quantitative","scale":{"domain":[-120,615],"nice":false,"zero":false},"axis":{"orient":"left","values":[-100,0,100,200,300,400,500,600],"labelExpr":"datum.value>=0 && datum.value%200==0 ? datum.label : ''","tickSize":{"condition":{"test":"datum.value%200==0","value":-6},"value":-3},"labelPadding":10,"title":"I [mJy beam⁻¹]","titleX":-43,"titleY":120,"titleFont":"Liberation Sans","titleFontSize":13}}}},
 {"data":{"name":"m3"},"mark":{"type":"line","color":"#ff0000","strokeWidth":1.4,"clip":true,"interpolate":"monotone"},"encoding":{
  "x":{"field":"f","type":"quantitative","scale":{"domain":[349.648,349.708],"nice":false,"zero":false},"axis":{"orient":"top","tickCount":60,"labels":false,"tickSize":{"condition":{"test":"abs((datum.value-0.01)*50-round((datum.value-0.01)*50))<0.01","value":-6},"value":-3},"title":null}},
  "y":{"field":"v","type":"quantitative","scale":{"domain":[-120,615],"nice":false,"zero":false},"axis":{"orient":"right","values":[-100,0,100,200,300,400,500,600],"labels":false,"tickSize":{"condition":{"test":"datum.value%200==0","value":-6},"value":-3},"title":null}}}}
 ],"resolve":{"axis":{"x":"independent","y":"independent"}}},
{"width":197,"height":122,"title":"277","layer":[
 {"data":{"name":"o4"},"mark":{"type":"line","color":"black","strokeWidth":1.3,"clip":true},"encoding":{
  "x":{"field":"f","type":"quantitative","scale":{"domain":[355.7106,355.7708],"nice":false,"zero":false},"axis":{"orient":"bottom","tickCount":60,"labelExpr":"abs(datum.value*50-round(datum.value*50))<0.01 ? format(datum.value,'.2f') : ''","tickSize":{"condition":{"test":"abs(datum.value*50-round(datum.value*50))<0.01","value":-6},"value":-3},"labelPadding":13,"labelOffset":-3.3,"title":null}},
  "y":{"field":"v","type":"quantitative","scale":{"domain":[-120,615],"nice":false,"zero":false},"axis":{"orient":"left","values":[-100,0,100,200,300,400,500,600],"labels":false,"tickSize":{"condition":{"test":"datum.value%200==0","value":-6},"value":-3},"title":null}}}},
 {"data":{"name":"m4"},"mark":{"type":"line","color":"#ff0000","strokeWidth":1.4,"clip":true,"interpolate":"monotone"},"encoding":{
  "x":{"field":"f","type":"quantitative","scale":{"domain":[355.7106,355.7708],"nice":false,"zero":false},"axis":{"orient":"top","tickCount":60,"labels":false,"tickSize":{"condition":{"test":"abs(datum.value*50-round(datum.value*50))<0.01","value":-6},"value":-3},"title":null}},
  "y":{"field":"v","type":"quantitative","scale":{"domain":[-120,615],"nice":false,"zero":false},"axis":{"orient":"right","values":[-100,0,100,200,300,400,500,600],"labels":false,"tickSize":{"condition":{"test":"datum.value%200==0","value":-6},"value":-3},"title":null}}}},
 {"data":{"name":"k4"},"mark":{"type":"point","shape":"M-1,-1L1,1M-1,1L1,-1","size":64,"color":"#0000ff","strokeWidth":1.3,"filled":false,"opacity":1},"encoding":{
  "x":{"field":"f","type":"quantitative","scale":{"domain":[355.7106,355.7708],"nice":false,"zero":false},"axis":null},
  "y":{"field":"v","type":"quantitative","scale":{"domain":[-120,615],"nice":false,"zero":false},"axis":null}}}
 ],"resolve":{"axis":{"x":"independent","y":"independent"}}},
{"width":197,"height":122,"title":"286∗","layer":[
 {"data":{"name":"o5"},"mark":{"type":"line","color":"black","strokeWidth":1.3,"clip":true},"encoding":{
  "x":{"field":"f","type":"quantitative","scale":{"domain":[349.6434,349.7034],"nice":false,"zero":false},"axis":{"orient":"bottom","tickCount":60,"labelExpr":"abs((datum.value-0.01)*50-round((datum.value-0.01)*50))<0.01 ? format(datum.value,'.2f') : ''","tickSize":{"condition":{"test":"abs((datum.value-0.01)*50-round((datum.value-0.01)*50))<0.01","value":-6},"value":-3},"labelPadding":13,"labelOffset":-3.3,"title":null}},
  "y":{"field":"v","type":"quantitative","scale":{"domain":[-120,615],"nice":false,"zero":false},"axis":{"orient":"left","values":[-100,0,100,200,300,400,500,600],"labelExpr":"datum.value>=0 && datum.value%200==0 ? datum.label : ''","tickSize":{"condition":{"test":"datum.value%200==0","value":-6},"value":-3},"labelPadding":10,"title":null}}}},
 {"data":{"name":"m5"},"mark":{"type":"line","color":"#ff0000","strokeWidth":1.4,"clip":true,"interpolate":"monotone"},"encoding":{
  "x":{"field":"f","type":"quantitative","scale":{"domain":[349.6434,349.7034],"nice":false,"zero":false},"axis":{"orient":"top","tickCount":60,"labels":false,"tickSize":{"condition":{"test":"abs((datum.value-0.01)*50-round((datum.value-0.01)*50))<0.01","value":-6},"value":-3},"title":null}},
  "y":{"field":"v","type":"quantitative","scale":{"domain":[-120,615],"nice":false,"zero":false},"axis":{"orient":"right","values":[-100,0,100,200,300,400,500,600],"labels":false,"tickSize":{"condition":{"test":"datum.value%200==0","value":-6},"value":-3},"title":null}}}}
 ],"resolve":{"axis":{"x":"independent","y":"independent"}}},
{"width":197,"height":122,"title":"292","layer":[
 {"data":{"name":"o6"},"mark":{"type":"line","color":"black","strokeWidth":1.3,"clip":true},"encoding":{
  "x":{"field":"f","type":"quantitative","scale":{"domain":[359.6366,359.6967],"nice":false,"zero":false},"axis":{"orient":"bottom","tickCount":60,"labelExpr":"abs(datum.value*50-round(datum.value*50))<0.01 ? format(datum.value,'.2f') : ''","tickSize":{"condition":{"test":"abs(datum.value*50-round(datum.value*50))<0.01","value":-6},"value":-3},"labelPadding":13,"labelOffset":-3.3,"title":null}},
  "y":{"field":"v","type":"quantitative","scale":{"domain":[-120,615],"nice":false,"zero":false},"axis":{"orient":"left","values":[-100,0,100,200,300,400,500,600],"labels":false,"tickSize":{"condition":{"test":"datum.value%200==0","value":-6},"value":-3},"title":null}}}},
 {"data":{"name":"m6"},"mark":{"type":"line","color":"#ff0000","strokeWidth":1.4,"clip":true,"interpolate":"monotone"},"encoding":{
  "x":{"field":"f","type":"quantitative","scale":{"domain":[359.6366,359.6967],"nice":false,"zero":false},"axis":{"orient":"top","tickCount":60,"labels":false,"tickSize":{"condition":{"test":"abs(datum.value*50-round(datum.value*50))<0.01","value":-6},"value":-3},"title":null}},
  "y":{"field":"v","type":"quantitative","scale":{"domain":[-120,615],"nice":false,"zero":false},"axis":{"orient":"right","values":[-100,0,100,200,300,400,500,600],"labels":false,"tickSize":{"condition":{"test":"datum.value%200==0","value":-6},"value":-3},"title":null}}}}
 ],"resolve":{"axis":{"x":"independent","y":"independent"}}},
{"width":197,"height":122,"title":"309","layer":[
 {"data":{"name":"o7"},"mark":{"type":"line","color":"black","strokeWidth":1.3,"clip":true},"encoding":{
  "x":{"field":"f","type":"quantitative","scale":{"domain":[344.7909,344.8508],"nice":false,"zero":false},"axis":{"orient":"bottom","tickCount":60,"labelExpr":"abs(datum.value*50-round(datum.value*50))<0.01 ? format(datum.value,'.2f') : ''","tickSize":{"condition":{"test":"abs(datum.value*50-round(datum.value*50))<0.01","value":-6},"value":-3},"labelPadding":13,"labelOffset":-3.3,"title":"Freq. [GHz]","titleX":208,"titleY":28}},
  "y":{"field":"v","type":"quantitative","scale":{"domain":[-120,615],"nice":false,"zero":false},"axis":{"orient":"left","values":[-100,0,100,200,300,400,500,600],"labelExpr":"datum.value>=0 && datum.value%200==0 ? datum.label : ''","tickSize":{"condition":{"test":"datum.value%200==0","value":-6},"value":-3},"labelPadding":10,"title":null}}}},
 {"data":{"name":"m7"},"mark":{"type":"line","color":"#ff0000","strokeWidth":1.4,"clip":true,"interpolate":"monotone"},"encoding":{
  "x":{"field":"f","type":"quantitative","scale":{"domain":[344.7909,344.8508],"nice":false,"zero":false},"axis":{"orient":"top","tickCount":60,"labels":false,"tickSize":{"condition":{"test":"abs(datum.value*50-round(datum.value*50))<0.01","value":-6},"value":-3},"title":null}},
  "y":{"field":"v","type":"quantitative","scale":{"domain":[-120,615],"nice":false,"zero":false},"axis":{"orient":"right","values":[-100,0,100,200,300,400,500,600],"labels":false,"tickSize":{"condition":{"test":"datum.value%200==0","value":-6},"value":-3},"title":null}}}}
 ],"resolve":{"axis":{"x":"independent","y":"independent"}}},
{"width":197,"height":122,"title":"326","layer":[
 {"data":{"name":"o8"},"mark":{"type":"line","color":"black","strokeWidth":1.3,"clip":true},"encoding":{
  "x":{"field":"f","type":"quantitative","scale":{"domain":[336.6147,336.6749],"nice":false,"zero":false},"axis":{"orient":"bottom","tickCount":60,"labelExpr":"abs(datum.value*50-round(datum.value*50))<0.01 ? format(datum.value,'.2f') : ''","tickSize":{"condition":{"test":"abs(datum.value*50-round(datum.value*50))<0.01","value":-6},"value":-3},"labelPadding":13,"labelOffset":-3.3,"title":null}},
  "y":{"field":"v","type":"quantitative","scale":{"domain":[-120,615],"nice":false,"zero":false},"axis":{"orient":"left","values":[-100,0,100,200,300,400,500,600],"labels":false,"tickSize":{"condition":{"test":"datum.value%200==0","value":-6},"value":-3},"title":null}}}},
 {"data":{"name":"m8"},"mark":{"type":"line","color":"#ff0000","strokeWidth":1.4,"clip":true,"interpolate":"monotone"},"encoding":{
  "x":{"field":"f","type":"quantitative","scale":{"domain":[336.6147,336.6749],"nice":false,"zero":false},"axis":{"orient":"top","tickCount":60,"labels":false,"tickSize":{"condition":{"test":"abs(datum.value*50-round(datum.value*50))<0.01","value":-6},"value":-3},"title":null}},
  "y":{"field":"v","type":"quantitative","scale":{"domain":[-120,615],"nice":false,"zero":false},"axis":{"orient":"right","values":[-100,0,100,200,300,400,500,600],"labels":false,"tickSize":{"condition":{"test":"datum.value%200==0","value":-6},"value":-3},"title":null}}}},
 {"data":{"name":"k8"},"mark":{"type":"point","shape":"M-1,0L1,0M0,-1L0,1","size":64,"color":"#0000ff","strokeWidth":1.3,"filled":false,"opacity":1},"encoding":{
  "x":{"field":"f","type":"quantitative","scale":{"domain":[336.6147,336.6749],"nice":false,"zero":false},"axis":null},
  "y":{"field":"v","type":"quantitative","scale":{"domain":[-120,615],"nice":false,"zero":false},"axis":null}}}
 ],"resolve":{"axis":{"x":"independent","y":"independent"}}}
]
}
